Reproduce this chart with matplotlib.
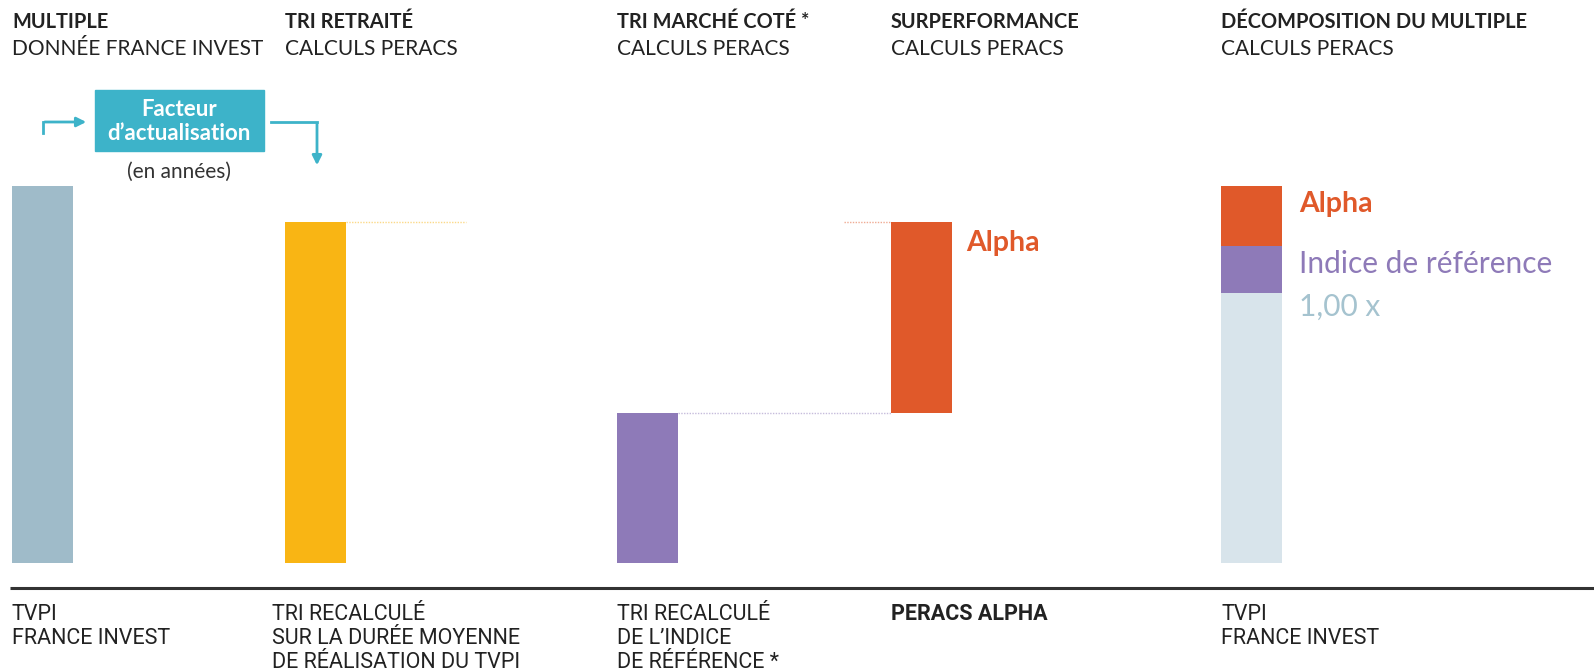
import matplotlib
matplotlib.use("Agg")
import matplotlib.pyplot as plt
from matplotlib.patches import FancyArrowPatch, Rectangle

W, H = 1594, 672

# valeurs (unité : multiple, 1,00 x = segment de base)
tvpi = 1.395
tri_retraite = 1.26
tri_marche = 0.556
decomp_base = 1.00
decomp_indice = 0.173
decomp_alpha = 0.222

headers_bold = ["MULTIPLE", "TRI RETRAITÉ", "TRI MARCHÉ COTÉ *", "SURPERFORMANCE", "DÉCOMPOSITION DU MULTIPLE"]
headers_sub = ["DONNÉE FRANCE INVEST", "CALCULS PERACS", "CALCULS PERACS", "CALCULS PERACS", "CALCULS PERACS"]
footers = [["TVPI", "FRANCE INVEST"],
           ["TRI RECALCULÉ", "SUR LA DURÉE MOYENNE", "DE RÉALISATION DU TVPI"],
           ["TRI RECALCULÉ", "DE L’INDICE", "DE RÉFÉRENCE *"],
           ["PERACS ALPHA"],
           ["TVPI", "FRANCE INVEST"]]

c_tvpi = "#9fbbc9"
c_yellow = "#f9b514"
c_purple = "#8e7ab8"
c_orange = "#e0592a"
c_light = "#d8e4eb"
c_teal = "#3db3c9"
c_txt = "#222222"

px_per_unit = 270.4
base_px = 563
fig = plt.figure(figsize=(W / 100, H / 100), dpi=100)
ax = fig.add_axes([0, 0, 1, 1])
ax.set_xlim(0, W)
ax.set_ylim(-(H - base_px) / px_per_unit, base_px / px_per_unit)
ax.axis("off")

bw = 61
ax.bar(12, tvpi, bw, align="edge", color=c_tvpi)
ax.bar(285, tri_retraite, bw, align="edge", color=c_yellow)
ax.bar(617, tri_marche, bw, align="edge", color=c_purple)
ax.bar(891, tri_retraite - tri_marche, bw, bottom=tri_marche, align="edge", color=c_orange)
ax.bar(1221, decomp_base, bw, align="edge", color=c_light)
ax.bar(1221, decomp_indice, bw, bottom=decomp_base, align="edge", color=c_purple)
ax.bar(1221, decomp_alpha, bw, bottom=decomp_base + decomp_indice, align="edge", color=c_orange)

# pointillés de liaison
ax.plot([346, 466], [tri_retraite] * 2, ls=(0, (1, 1)), lw=1, color=c_yellow, alpha=0.5)
ax.plot([844, 891], [tri_retraite] * 2, ls=(0, (1, 1)), lw=1, color=c_orange, alpha=0.5)
ax.plot([678, 891], [tri_marche] * 2, ls=(0, (1, 1)), lw=1, color=c_purple, alpha=0.5)

# ligne de base
ax.plot([10, W], [-(588 - base_px) / px_per_unit] * 2, color="#333333", lw=2.2, solid_capstyle="butt")


def T(x, y, s, **kw):
    fig.text(x / W, 1 - y / H, s, **kw)


head_font = ["Lato", "DejaVu Sans"]
cols = [12, 285, 617, 891, 1221]
for x, hb, hs in zip(cols, headers_bold, headers_sub):
    T(x, 22, hb, fontsize=14.4, fontweight="bold", color=c_txt, va="center", family=head_font)
    T(x, 49, hs, fontsize=15, color=c_txt, va="center", family=head_font)

foot_font = ["Liberation Sans Narrow", "Roboto", "DejaVu Sans"]
fcols = [12, 272, 617, 891, 1221]
for i, (x, lines) in enumerate(zip(fcols, footers)):
    for j, s in enumerate(lines):
        T(x, 614 + j * 24.5, s, fontsize=15.5, color=c_txt, va="center",
          fontweight="bold" if i == 3 else "normal", family=foot_font)

# boîte facteur d'actualisation
ax_box = fig.add_axes([0, 0, 1, 1], facecolor="none")
ax_box.set_xlim(0, W)
ax_box.set_ylim(H, 0)
ax_box.axis("off")
ax_box.add_patch(Rectangle((95, 90), 169, 61, color=c_teal))
ax_box.text(179, 110, "Facteur", color="white", fontsize=16, fontweight="bold", ha="center", va="center", family=head_font)
ax_box.text(179, 134, "d’actualisation", color="white", fontsize=16, fontweight="bold", ha="center", va="center", family=head_font)
ax_box.text(179, 172, "(en années)", color="#333333", fontsize=15, ha="center", va="center", family=head_font)

ax_box.plot([43, 43], [133, 122], color=c_teal, lw=2)
ax_box.add_patch(FancyArrowPatch((42, 122), (89, 122), arrowstyle="-|>", mutation_scale=14, color=c_teal, lw=2))
ax_box.plot([271, 317], [122, 122], color=c_teal, lw=2)
ax_box.add_patch(FancyArrowPatch((317, 121), (317, 168), arrowstyle="-|>", mutation_scale=14, color=c_teal, lw=2))

# étiquettes
ax_box.text(966, 243, "Alpha", color=c_orange, fontsize=20.5, fontweight="bold", va="center", family=head_font)
ax_box.text(1299, 204, "Alpha", color=c_orange, fontsize=20.5, fontweight="bold", va="center", family=head_font)
ax_box.text(1299, 264, "Indice de référence", color=c_purple, fontsize=21.5, va="center", family=head_font)
ax_box.text(1299, 307, "1,00 x", color="#a5c3cf", fontsize=21.5, va="center", family=head_font)

fig.savefig("out.png", dpi=100, facecolor="white")
